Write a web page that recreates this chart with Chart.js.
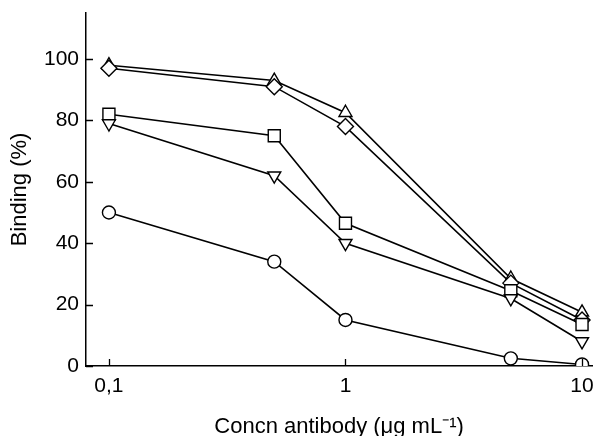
<!DOCTYPE html>
<html lang="en">
<head>
<meta charset="UTF-8">
<title>Binding vs antibody concentration</title>
<script src="https://cdn.jsdelivr.net/npm/chart.js@4.4.1/dist/chart.umd.min.js"></script>
<style>
    body { margin: 0; padding: 0; background: #fff; }
    #wrap { width: 602px; height: 436px; position: relative; }
</style>
</head>
<body>
<div id="wrap"><canvas id="bindingChart"></canvas></div>
<script>
    // concentrations (ug/mL) and binding (%) per series
    const concn = [0.1, 0.5, 1, 5, 10];
    const triUp = [98, 93, 82.5, 28.5, 17.5];
    const diamond = [97, 91, 78, 27, 15];
    const square = [82, 75, 46.5, 24.5, 13.5];
    const triDown = [79, 62, 40, 22, 8];
    const circle = [50, 34, 15, 2.5, 0.5];
    const xTicks = [0.1, 1, 10];
    const xTickLabels = ['0,1', '1', '10'];
    const yTicks = [0, 20, 40, 60, 80, 100];

    const FONT = 'Liberation Sans, Arial, sans-serif';

    function toPoints(ys) {
        return concn.map((x, i) => ({ x: x, y: ys[i] }));
    }

    function series(ys, style, rot, radius) {
        return {
            data: toPoints(ys),
            showLine: true,
            borderColor: '#000',
            borderWidth: 1.6,
            pointStyle: style,
            rotation: rot,
            pointRadius: radius,
            pointBackgroundColor: '#fff',
            pointBorderColor: '#000',
            pointBorderWidth: 1.4
        };
    }

    // small inward tick marks on both axes
    const inwardTicks = {
        id: 'inwardTicks',
        afterDraw(chart) {
            const c = chart.ctx;
            const xs = chart.scales.x, ys = chart.scales.y;
            c.save();
            c.strokeStyle = '#000';
            c.lineWidth = 1.3;
            c.beginPath();
            xTicks.forEach(v => {
                const px = Math.round(xs.getPixelForValue(v)) + 0.5;
                c.moveTo(px, ys.bottom);
                c.lineTo(px, ys.bottom - 7);
            });
            yTicks.forEach(v => {
                const py = Math.round(ys.getPixelForValue(v)) + 0.5;
                c.moveTo(xs.left, py);
                c.lineTo(xs.left + 7, py);
            });
            c.stroke();
            c.restore();
        }
    };

    new Chart(document.getElementById('bindingChart'), {
        type: 'scatter',
        data: {
            datasets: [
                series(circle, 'circle', 0, 6.5),
                series(triDown, 'triangle', 180, 7.5),
                series(square, 'rect', 0, 8.5),
                series(diamond, 'rectRot', 0, 8),
                series(triUp, 'triangle', 0, 7.5)
            ]
        },
        options: {
            responsive: true,
            maintainAspectRatio: false,
            animation: false,
            layout: { padding: { left: 0, top: 13, right: 2, bottom: 0 } },
            plugins: {
                legend: { display: false },
                tooltip: { enabled: false }
            },
            scales: {
                x: {
                    type: 'logarithmic',
                    min: 0.08,
                    max: 11.03,
                    afterBuildTicks: s => { s.ticks = xTicks.map(v => ({ value: v })); },
                    afterFit: s => { s.height = 70; s.paddingLeft = 0; s.paddingRight = 0; },
                    grid: { display: false, drawTicks: false },
                    border: { color: '#000', width: 1.5 },
                    ticks: {
                        autoSkip: false,
                        maxRotation: 0,
                        padding: 8,
                        color: '#000',
                        font: { family: FONT, size: 21 },
                        callback: (v) => {
                            const i = xTicks.indexOf(v);
                            return i >= 0 ? xTickLabels[i] : '';
                        }
                    },
                    title: {
                        display: true,
                        text: 'Concn antibody (\u03bcg mL\u207b\u00b9)',
                        color: '#000',
                        font: { family: FONT, size: 22 },
                        padding: { top: 0, bottom: -4 }
                    }
                },
                y: {
                    min: 0,
                    max: 115,
                    afterBuildTicks: s => { s.ticks = yTicks.map(v => ({ value: v })); },
                    afterFit: s => { s.width = 86; s.paddingTop = 0; s.paddingBottom = 0; },
                    grid: { display: false, drawTicks: false },
                    border: { color: '#000', width: 1.5 },
                    ticks: {
                        padding: 7,
                        color: '#000',
                        font: { family: FONT, size: 21 }
                    },
                    title: {
                        display: true,
                        text: 'Binding (%)',
                        color: '#000',
                        font: { family: FONT, size: 22 },
                        padding: { top: 7, bottom: 0 }
                    }
                }
            }
        },
        plugins: [inwardTicks]
    });
</script>
</body>
</html>
